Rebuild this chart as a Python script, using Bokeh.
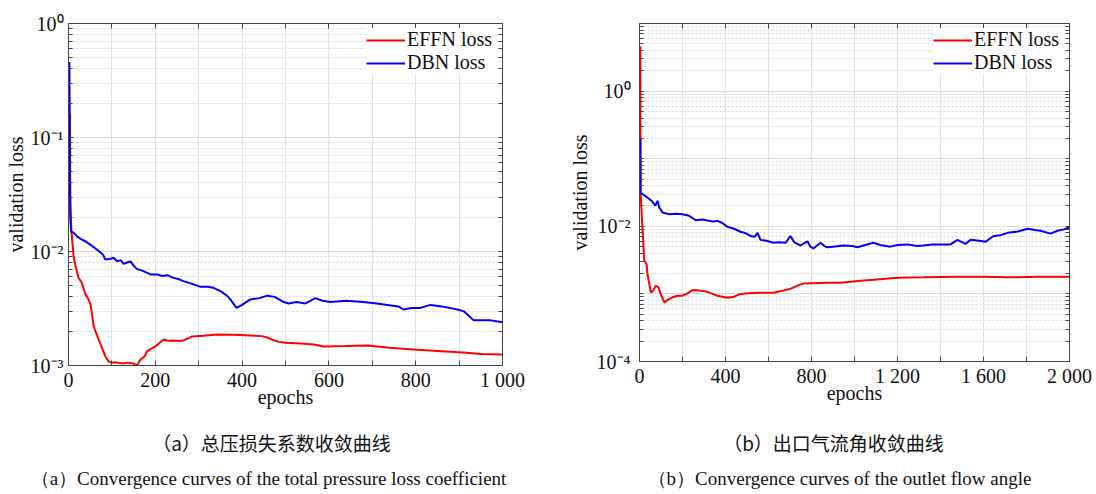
from bokeh.plotting import figure
from bokeh.layouts import row, column
from bokeh.models import (FixedTicker, LinearAxis, LogAxis, Range1d, Legend,
                          LegendItem, Label)
from bokeh.embed import file_html
from bokeh.resources import INLINE

# ---------------- data (a): total pressure loss coefficient ----------------
a_dbn_epochs = [2, 3, 4, 6, 11, 20, 30, 39, 50, 60, 74, 80, 85, 95, 104, 112, 120,
                127, 135, 143, 150, 158, 170, 189, 205, 215, 228, 240, 255, 265,
                285, 304, 320, 334, 350, 365, 373, 387, 400, 419, 440, 458, 475,
                496, 507, 525, 546, 569, 585, 604, 640, 680, 710, 735, 760, 772,
                790, 811, 834, 860, 896, 910, 919, 933, 950, 970, 1000]
a_dbn_loss = [0.46, 0.12, 0.020, 0.0149, 0.0147, 0.0135, 0.0128, 0.0123, 0.0115,
              0.0108, 0.0098, 0.0093, 0.0085, 0.0086, 0.0088, 0.0082, 0.0084,
              0.0078, 0.0080, 0.0082, 0.0075, 0.0070, 0.0068, 0.0063, 0.0063,
              0.0061, 0.0062, 0.0059, 0.0057, 0.0055, 0.0052, 0.0049, 0.0049,
              0.0048, 0.0045, 0.0041, 0.0038, 0.0032, 0.0034, 0.0038, 0.0039,
              0.0041, 0.0040, 0.0036, 0.0035, 0.0036, 0.0035, 0.0039, 0.0037,
              0.0036, 0.0037, 0.0036, 0.0035, 0.0034, 0.0033, 0.0031, 0.0032,
              0.0032, 0.0034, 0.0033, 0.0031, 0.0030, 0.0028, 0.0025, 0.0025,
              0.0025, 0.0024]
a_effn_epochs = [3, 4, 7, 12, 17, 23, 31, 39, 45, 51, 58, 62, 74, 85, 93, 100, 112,
                 125, 135, 150, 158, 166, 175, 181, 190, 200, 210, 219, 230, 242,
                 255, 265, 285, 310, 343, 380, 419, 445, 458, 470, 482, 500, 535,
                 565, 588, 640, 689, 740, 795, 850, 910, 950, 1000]
a_effn_loss = [0.16, 0.03, 0.0147, 0.0089, 0.0072, 0.0059, 0.0053, 0.0042, 0.0039,
               0.0034, 0.0022, 0.0020, 0.00153, 0.0012, 0.00108, 0.00106, 0.00106,
               0.00104, 0.00106, 0.00104, 0.0010, 0.00113, 0.00120, 0.00133,
               0.00140, 0.00147, 0.00158, 0.00169, 0.00165, 0.00166, 0.00164,
               0.00166, 0.00180, 0.00182, 0.00187, 0.00186, 0.00183, 0.00181,
               0.00176, 0.00168, 0.00162, 0.00158, 0.00156, 0.00153, 0.00147,
               0.00148, 0.00150, 0.00143, 0.00138, 0.00134, 0.00130, 0.00126,
               0.00125]

# ---------------- data (b): outlet flow angle ----------------
b_dbn_epochs = [4, 5, 14, 37, 60, 73, 84, 92, 107, 138, 169, 200, 231, 262, 293,
                340, 363, 385, 409, 440, 470, 490, 516, 535, 549, 563, 590, 623,
                650, 680, 702, 720, 749, 781, 795, 809, 842, 860, 874, 900, 949,
                990, 1014, 1050, 1088, 1120, 1167, 1200, 1247, 1290, 1321, 1360,
                1400, 1447, 1479, 1516, 1540, 1580, 1609, 1647, 1680, 1712, 1760,
                1805, 1840, 1865, 1912, 1944, 1975, 1991, 2000]
b_dbn_loss = [0.194, 0.0315, 0.0299, 0.0266, 0.0232, 0.0201, 0.0238, 0.019, 0.016,
              0.0151, 0.0153, 0.0151, 0.0143, 0.0123, 0.0126, 0.0118, 0.0120,
              0.0112, 0.0098, 0.0092, 0.0083, 0.0080, 0.0072, 0.0070, 0.0080,
              0.0063, 0.0061, 0.0057, 0.0058, 0.0057, 0.0072, 0.0058, 0.0052,
              0.0060, 0.0050, 0.0047, 0.0057, 0.0051, 0.0049, 0.0050, 0.0052,
              0.0051, 0.0049, 0.0053, 0.0057, 0.0053, 0.0050, 0.0053, 0.0054,
              0.0051, 0.0052, 0.0054, 0.0054, 0.0054, 0.0063, 0.0055, 0.0063,
              0.0061, 0.0059, 0.0072, 0.0074, 0.0080, 0.0084, 0.0092, 0.0088,
              0.0086, 0.0078, 0.0086, 0.0090, 0.0095, 0.0092]
b_effn_epochs = [4, 5, 11, 22, 33, 37, 53, 64, 76, 88, 99, 115, 130, 153, 177,
                 200, 223, 247, 278, 308, 340, 363, 409, 440, 470, 520, 563, 623,
                 660, 702, 740, 763, 874, 935, 1028, 1088, 1200, 1321, 1479, 1600,
                 1712, 1850, 2000]
b_effn_loss = [4.6, 0.033, 0.0135, 0.0031, 0.00277, 0.00197, 0.00105, 0.00112,
               0.00132, 0.00125, 0.0010, 0.00075, 0.00081, 0.00089, 0.00094,
               0.00094, 0.00102, 0.00114, 0.00112, 0.00109, 0.00100, 0.00094,
               0.00088, 0.00091, 0.00100, 0.00103, 0.00104, 0.00104, 0.00110,
               0.00119, 0.00135, 0.00142, 0.00146, 0.00146, 0.00157, 0.00162,
               0.00174, 0.00176, 0.00180, 0.00180, 0.00176, 0.00179, 0.00180]

# tick positions and labels
a_x_labeled = [0, 200, 400, 600, 800, 1000]
a_x_tick_labels = ["0", "200", "400", "600", "800", "1 000"]
a_x_unlabeled = [100, 300, 500, 700, 900]
a_y_labeled = [1e-3, 1e-2, 1e-1, 1.0]
a_y_tick_labels = ["10⁻³", "10⁻²", "10⁻¹", "10⁰"]
a_y_unlabeled = []
b_x_labeled = [0, 400, 800, 1200, 1600, 2000]
b_x_tick_labels = ["0", "400", "800", "1 200", "1 600", "2 000"]
b_x_unlabeled = [200, 600, 1000, 1400, 1800]
b_y_labeled = [1e-4, 1e-2, 1.0]
b_y_tick_labels = ["10⁻⁴", "10⁻²", "10⁰"]
b_y_unlabeled = [1e-3, 1e-1, 10.0]

series_names = ["EFFN loss", "DBN loss"]
captions_cn = ["（a）总压损失系数收敛曲线", "（b）出口气流角收敛曲线"]
captions_en = ["（a）Convergence curves of the total pressure loss coefficient",
               "（b）Convergence curves of the outlet flow angle"]

SERIF = "Liberation Serif"
AX = "#444444"


def minor_log(lo_exp, hi_exp):
    return [k * 10.0 ** e for e in range(lo_exp, hi_exp) for k in range(2, 10)]


def make_panel(xr, yr, x_lab, x_txt, x_unl, y_lab, y_txt, y_unl, ymin_exp,
               ymax_exp, effn_x, effn_y, dbn_x, dbn_y, borders, frame,
               ylab_standoff, ylabel_standoff):
    bl, br, bt, bb = borders
    fw, fh = frame
    p = figure(frame_width=fw, frame_height=fh, x_range=Range1d(*xr),
               y_range=Range1d(*yr), y_axis_type="log",
               output_backend="svg", toolbar_location=None,
               min_border_left=bl, min_border_right=br, min_border_top=bt,
               min_border_bottom=bb, background_fill_color="white",
               border_fill_color="white")
    p.outline_line_color = AX
    p.outline_line_width = 1

    y_minor = minor_log(ymin_exp, ymax_exp)
    xticker = FixedTicker(ticks=x_lab, minor_ticks=x_unl)
    yticker = FixedTicker(ticks=y_lab, minor_ticks=y_unl + y_minor)

    xa = p.xaxis[0]
    xa.ticker = xticker
    xa.major_label_overrides = {float(t): l for t, l in zip(x_lab, x_txt)}
    ya = p.yaxis[0]
    ya.ticker = yticker
    ya.major_label_overrides = {float(t): l for t, l in zip(y_lab, y_txt)}

    for ax in (xa, ya):
        ax.axis_line_color = AX
        ax.major_tick_line_color = AX
        ax.minor_tick_line_color = AX
        ax.major_tick_in = 5
        ax.major_tick_out = 0
        ax.minor_tick_in = 4
        ax.minor_tick_out = 0
        ax.major_label_text_font = SERIF
        ax.major_label_text_font_size = "20px"
        ax.major_label_text_color = "#111111"
        ax.axis_label_text_font = SERIF
        ax.axis_label_text_font_size = "20px"
        ax.axis_label_text_font_style = "normal"
        ax.axis_label_text_color = "#111111"
    xa.minor_tick_in = 5
    xa.axis_label = "epochs"
    xa.major_label_standoff = 3
    xa.axis_label_standoff = -8
    ya.axis_label = "validation loss"
    ya.major_label_standoff = ylab_standoff
    ya.axis_label_standoff = ylabel_standoff

    # box ticks (top / right) without labels: all ticks given as minor ticks
    top = LinearAxis(ticker=FixedTicker(ticks=[], minor_ticks=x_lab + x_unl),
                     minor_tick_in=5, minor_tick_out=0, major_tick_out=0,
                     major_tick_in=0, axis_line_color=AX,
                     minor_tick_line_color=AX, major_label_standoff=0,
                     major_label_text_font_size="1px", axis_label_standoff=0)
    right = LogAxis(ticker=FixedTicker(ticks=[],
                                       minor_ticks=y_lab + y_unl + y_minor),
                    minor_tick_in=4, minor_tick_out=0, major_tick_out=0,
                    major_tick_in=0, axis_line_color=AX,
                    minor_tick_line_color=AX, major_label_standoff=0,
                    major_label_text_font_size="1px", axis_label_standoff=0)
    p.add_layout(top, "above")
    p.add_layout(right, "right")

    p.xgrid.ticker = FixedTicker(ticks=x_lab + x_unl)
    p.xgrid.grid_line_color = "#e3e3e3"
    p.ygrid.ticker = FixedTicker(ticks=y_lab + y_unl, minor_ticks=y_minor)
    p.ygrid.grid_line_color = "#dadada"
    p.ygrid.minor_grid_line_color = "#d6d6d6"
    p.ygrid.minor_grid_line_dash = "2 2"

    r1 = p.line(effn_x, effn_y, line_color="#ff0000", line_width=2)
    r2 = p.line(dbn_x, dbn_y, line_color="#0000ff", line_width=2)

    legend = Legend(items=[LegendItem(label=series_names[0], renderers=[r1]),
                           LegendItem(label=series_names[1], renderers=[r2])],
                    location="top_right", border_line_color=None,
                    background_fill_color="white", background_fill_alpha=1.0,
                    label_text_font=SERIF, label_text_font_size="20px",
                    label_text_line_height=1.0, label_width=90,
                    label_text_color="#111111", glyph_width=39, glyph_height=20,
                    label_height=20, label_standoff=2, spacing=0, padding=0,
                    margin=5)
    p.add_layout(legend)
    return p


p1 = make_panel((0, 1000), (1e-3, 1.0), a_x_labeled, a_x_tick_labels,
                a_x_unlabeled, a_y_labeled, a_y_tick_labels, a_y_unlabeled,
                -3, 0, a_effn_epochs, a_effn_loss, a_dbn_epochs, a_dbn_loss,
                (68, 58, 19, 59), (434, 342), 5, 1)
p2 = make_panel((0, 2000), (1e-4, 10.0), b_x_labeled, b_x_tick_labels,
                b_x_unlabeled, b_y_labeled, b_y_tick_labels, b_y_unlabeled,
                -4, 1, b_effn_epochs, b_effn_loss, b_dbn_epochs, b_dbn_loss,
                (79, 27, 23, 59), (430, 338), 9, 3)

# caption strip (page pixels: x from the left, y downward)
cap = figure(width=1096, height=74, x_range=Range1d(0, 1096),
             y_range=Range1d(74, 0), output_backend="svg", toolbar_location=None,
             x_axis_type=None, y_axis_type=None, min_border=0)
cap.outline_line_color = None
cap.xgrid.visible = False
cap.ygrid.visible = False
cap_cn_centers = [271, 833]
cap_en_centers = [268, 839]
for i in range(2):
    cap.add_layout(Label(x=cap_cn_centers[i], y=22, text=captions_cn[i],
                         text_align="center", text_baseline="middle",
                         text_font="Noto Sans CJK SC", text_font_size="19px",
                         text_color="#111111"))
    cap.add_layout(Label(x=cap_en_centers[i], y=58, text=captions_en[i],
                         text_align="center", text_baseline="middle",
                         text_font=SERIF, text_font_size="19px",
                         text_color="#111111"))

layout = column(row(p1, p2, spacing=0), cap, spacing=0)
open("out.html", "w").write(file_html(layout, INLINE))
